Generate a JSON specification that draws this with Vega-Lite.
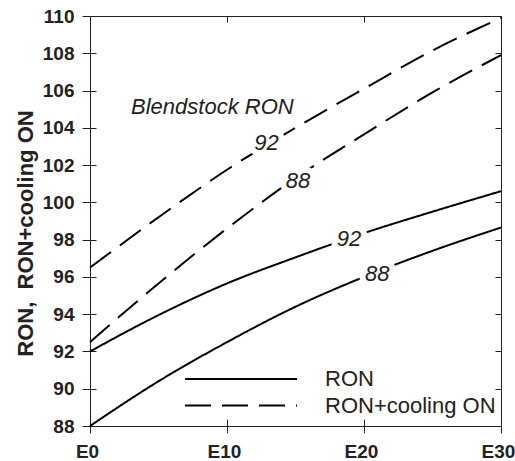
{
  "$schema": "https://vega.github.io/schema/vega-lite/v6.json",
  "width": 411,
  "height": 410,
  "autosize": {"type": "none"},
  "padding": {"left": 90, "top": 16, "right": 14, "bottom": 35},
  "background": "white",
  "config": {"view": {"stroke": "#222", "strokeWidth": 1}, "font": "Liberation Sans"},
  "datasets": {
    "curves": [
      {"ethanol": 0, "ron": 88, "series": "RON 88", "type": "RON"},
      {"ethanol": 5, "ron": 90.4, "series": "RON 88", "type": "RON"},
      {"ethanol": 10, "ron": 92.5, "series": "RON 88", "type": "RON"},
      {"ethanol": 15, "ron": 94.4, "series": "RON 88", "type": "RON"},
      {"ethanol": 20, "ron": 96.0, "series": "RON 88", "type": "RON"},
      {"ethanol": 25, "ron": 97.4, "series": "RON 88", "type": "RON"},
      {"ethanol": 30, "ron": 98.65, "series": "RON 88", "type": "RON"},
      {"ethanol": 0, "ron": 92, "series": "RON 92", "type": "RON"},
      {"ethanol": 5, "ron": 93.95, "series": "RON 92", "type": "RON"},
      {"ethanol": 10, "ron": 95.65, "series": "RON 92", "type": "RON"},
      {"ethanol": 15, "ron": 97.05, "series": "RON 92", "type": "RON"},
      {"ethanol": 20, "ron": 98.35, "series": "RON 92", "type": "RON"},
      {"ethanol": 25, "ron": 99.5, "series": "RON 92", "type": "RON"},
      {"ethanol": 30, "ron": 100.6, "series": "RON 92", "type": "RON"},
      {"ethanol": 0, "ron": 92.5, "series": "Cool 88", "type": "RON+cooling ON"},
      {"ethanol": 5, "ron": 95.65, "series": "Cool 88", "type": "RON+cooling ON"},
      {"ethanol": 10, "ron": 98.6, "series": "Cool 88", "type": "RON+cooling ON"},
      {"ethanol": 15, "ron": 101.3, "series": "Cool 88", "type": "RON+cooling ON"},
      {"ethanol": 20, "ron": 103.65, "series": "Cool 88", "type": "RON+cooling ON"},
      {"ethanol": 25, "ron": 105.9, "series": "Cool 88", "type": "RON+cooling ON"},
      {"ethanol": 30, "ron": 107.9, "series": "Cool 88", "type": "RON+cooling ON"},
      {"ethanol": 0, "ron": 96.5, "series": "Cool 92", "type": "RON+cooling ON"},
      {"ethanol": 5, "ron": 99.2, "series": "Cool 92", "type": "RON+cooling ON"},
      {"ethanol": 10, "ron": 101.75, "series": "Cool 92", "type": "RON+cooling ON"},
      {"ethanol": 15, "ron": 104.0, "series": "Cool 92", "type": "RON+cooling ON"},
      {"ethanol": 20, "ron": 106.1, "series": "Cool 92", "type": "RON+cooling ON"},
      {"ethanol": 25, "ron": 108.15, "series": "Cool 92", "type": "RON+cooling ON"},
      {"ethanol": 30, "ron": 109.9, "series": "Cool 92", "type": "RON+cooling ON"}
    ],
    "labels": [
      {"text": "Blendstock RON", "ethanol": 8.93, "ron": 105.1, "halo": 0},
      {"text": "92", "ethanol": 12.88, "ron": 103.2, "halo": 1},
      {"text": "88", "ethanol": 15.19, "ron": 101.14, "halo": 1},
      {"text": "92", "ethanol": 18.9, "ron": 98.05, "halo": 1},
      {"text": "88", "ethanol": 20.97, "ron": 96.14, "halo": 1}
    ]
  },
  "layer": [
    {
      "data": {"name": "curves"},
      "mark": {"type": "line", "interpolate": "monotone", "color": "black", "strokeWidth": 2},
      "encoding": {
        "x": {
          "field": "ethanol", "type": "quantitative",
          "scale": {"domain": [0, 30], "nice": false},
          "axis": {
            "orient": "bottom", "values": [0, 10, 20, 30], "labelExpr": "'E' + datum.value",
            "domain": false, "offset": -7, "tickSize": 14, "tickColor": "#222", "grid": false,
            "labelFont": "Liberation Sans", "labelFontWeight": "bold", "labelFontSize": 19,
            "labelColor": "#222", "labelPadding": 9, "labelOffset": -3, "title": null, "labelFlush": false
          }
        },
        "y": {
          "field": "ron", "type": "quantitative",
          "scale": {"domain": [88, 110], "nice": false, "zero": false},
          "axis": {
            "orient": "left", "values": [88, 90, 92, 94, 96, 98, 100, 102, 104, 106, 108, 110],
            "domain": false, "offset": -6, "tickSize": 14, "tickColor": "#222", "grid": false,
            "labelFont": "Liberation Sans", "labelFontWeight": "bold", "labelFontSize": 19,
            "labelColor": "#222", "labelPadding": 8, "labelFlush": false,
            "title": "RON,\u00a0\u00a0RON+cooling ON", "titleFont": "Liberation Sans", "titleFontSize": 22,
            "titleFontWeight": "bold", "titleColor": "#222", "titleBaseline": "alphabetic",
            "titleAngle": -90, "titleX": -64, "titleY": 217, "titleAlign": "center", "titleLimit": 400
          }
        },
        "detail": {"field": "series", "type": "nominal"},
        "strokeDash": {
          "field": "type", "type": "nominal",
          "scale": {"domain": ["RON", "RON+cooling ON"], "range": [[1, 0], [26, 11]]},
          "legend": {
            "orient": "none", "legendX": 136, "legendY": 348, "title": null,
            "symbolType": "M-4,0H4", "symbolSize": 784, "symbolStrokeWidth": 2,
            "symbolStrokeColor": "black", "symbolFillColor": "transparent",
            "labelFont": "Liberation Sans", "labelFontSize": 22, "labelLimit": 400,
            "labelColor": "#222", "labelOffset": 69, "rowPadding": 0.5
          }
        }
      }
    },
    {
      "data": {"name": "curves"},
      "mark": {"type": "line", "opacity": 0},
      "encoding": {
        "x": {
          "field": "ethanol", "type": "quantitative",
          "axis": {"orient": "top", "values": [0, 10, 20, 30], "domain": false, "labels": false,
                   "offset": -6, "tickSize": 6, "tickColor": "#222", "grid": false, "title": null}
        },
        "y": {
          "field": "ron", "type": "quantitative",
          "axis": {"orient": "right", "values": [88, 90, 92, 94, 96, 98, 100, 102, 104, 106, 108, 110],
                   "domain": false, "labels": false, "offset": -6, "tickSize": 6, "tickColor": "#222",
                   "grid": false, "title": null}
        },
        "detail": {"field": "series", "type": "nominal"}
      }
    },
    {
      "data": {"name": "labels"},
      "transform": [{"filter": "datum.halo == 1"}],
      "mark": {"type": "text", "font": "Liberation Sans", "fontStyle": "italic", "fontSize": 22,
               "align": "center", "baseline": "middle", "fill": "white", "stroke": "white", "strokeWidth": 12},
      "encoding": {
        "x": {"field": "ethanol", "type": "quantitative", "axis": null},
        "y": {"field": "ron", "type": "quantitative", "axis": null},
        "text": {"field": "text"}
      }
    },
    {
      "data": {"name": "labels"},
      "mark": {"type": "text", "font": "Liberation Sans", "fontStyle": "italic", "fontSize": 22,
               "align": "center", "baseline": "middle", "color": "#222"},
      "encoding": {
        "x": {"field": "ethanol", "type": "quantitative", "axis": null},
        "y": {"field": "ron", "type": "quantitative", "axis": null},
        "text": {"field": "text"}
      }
    }
  ],
  "resolve": {"axis": {"x": "independent", "y": "independent"}}
}
